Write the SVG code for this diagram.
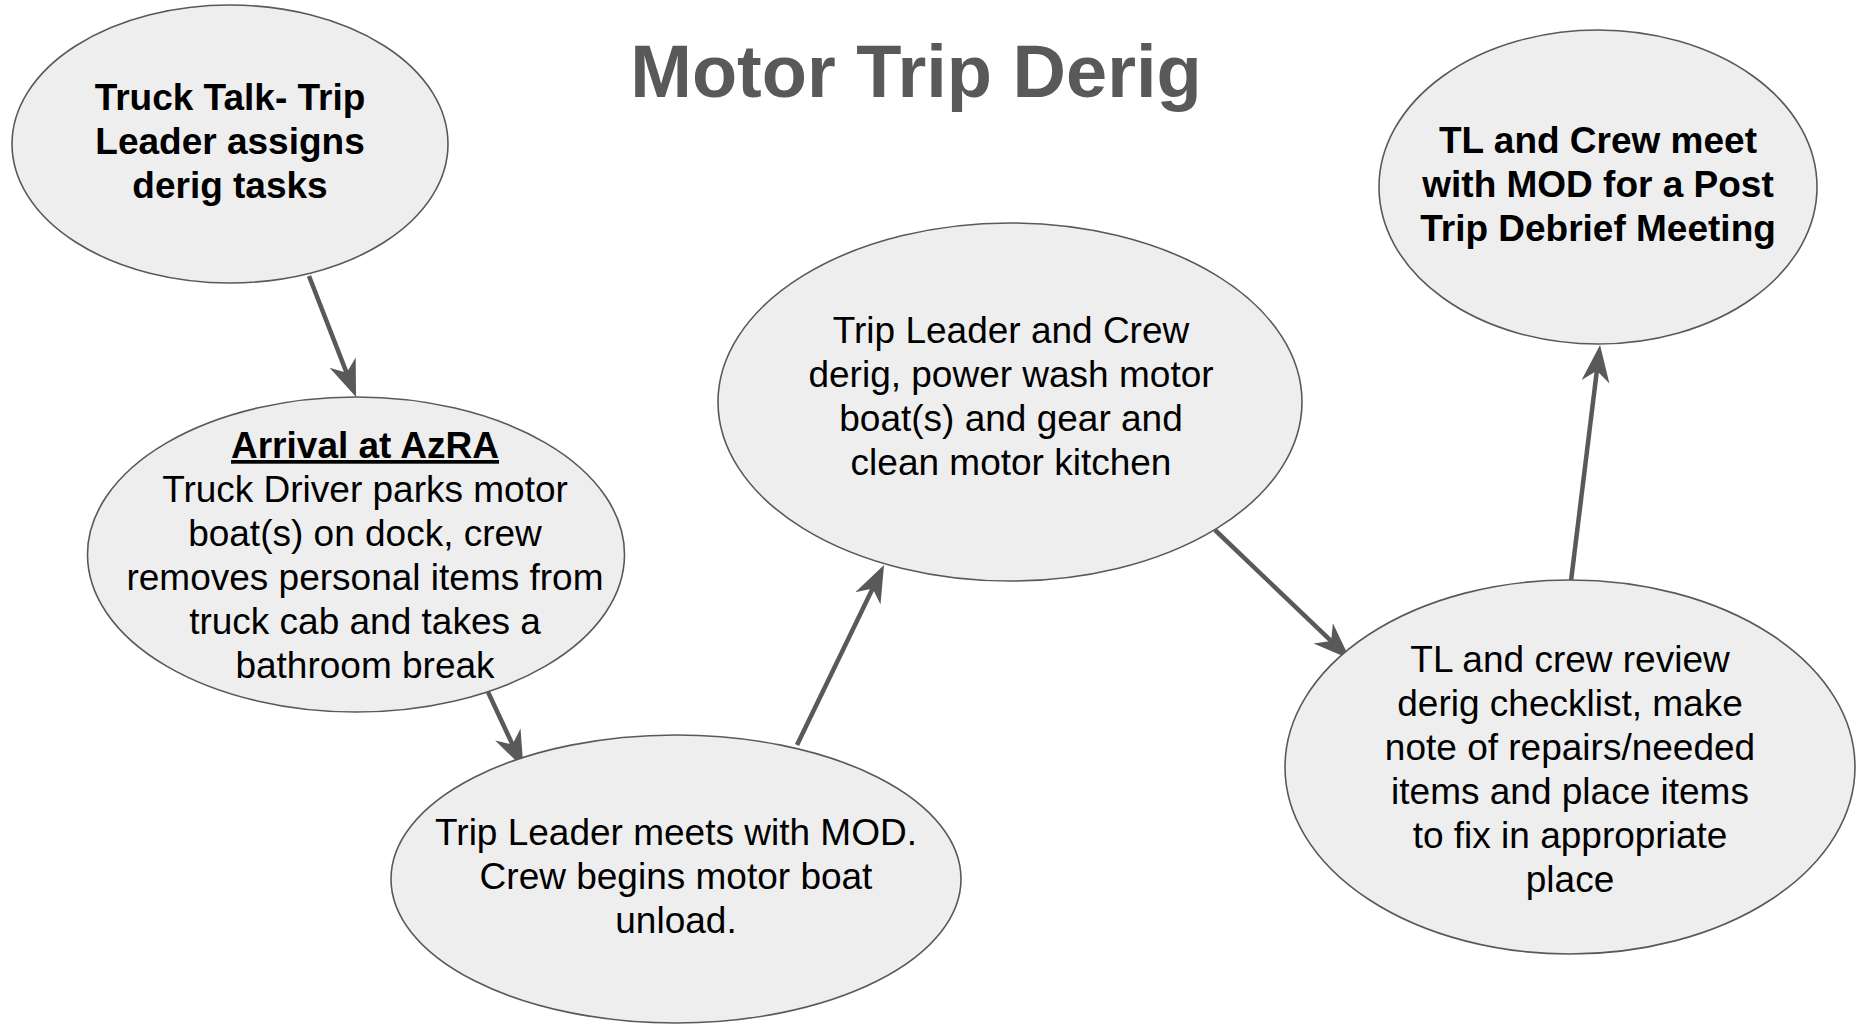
<svg xmlns="http://www.w3.org/2000/svg" width="1856" height="1024" viewBox="0 0 1856 1024">
<style>
.node ellipse{fill:#eeeeee;stroke:#595959;stroke-width:1.6}
.t{font-family:"Liberation Sans",Arial,sans-serif;font-size:37px;fill:#000;text-anchor:middle}
.b{font-weight:bold}
.title{font-family:"Liberation Sans",Arial,sans-serif;font-size:74px;font-weight:bold;fill:#595959;text-anchor:middle}
.conn line{stroke:#595959;stroke-width:4.5;fill:none;marker-end:url(#arr)}
</style>
<defs>
<marker id="arr" markerUnits="userSpaceOnUse" orient="auto" refX="0" refY="0" markerWidth="60" markerHeight="60" overflow="visible">
<path d="M20,0 L-17,-14 L-6,0 L-17,14 Z" fill="#595959"/>
</marker>
</defs>
<rect width="1856" height="1024" fill="#ffffff"/>
<text class="title" x="916" y="97">Motor Trip Derig</text>
<g id="connectors" class="conn">
<line x1="309" y1="276" x2="348.8" y2="378.4"/>
<line x1="488" y1="692" x2="515" y2="749.9"/>
<line x1="797" y1="745" x2="875.3" y2="583"/>
<line x1="1215" y1="530" x2="1335.5" y2="645.2"/>
<line x1="1571" y1="581" x2="1597.6" y2="364.8"/>
</g>
<g id="n1" class="node">
<ellipse cx="230" cy="144" rx="218" ry="139"/>
<text class="t b" x="230" y="110">Truck Talk- Trip</text>
<text class="t b" x="230" y="154">Leader assigns</text>
<text class="t b" x="230" y="198">derig tasks</text>
</g>
<g id="n2" class="node">
<ellipse cx="356" cy="554.5" rx="268.5" ry="157.5"/>
<text class="t b" x="365" y="458" style="text-decoration:underline">Arrival at AzRA</text>
<text class="t" x="365" y="502">Truck Driver parks motor</text>
<text class="t" x="365" y="546">boat(s) on dock, crew</text>
<text class="t" x="365" y="590">removes personal items from</text>
<text class="t" x="365" y="634">truck cab and takes a</text>
<text class="t" x="365" y="678">bathroom break</text>
</g>
<g id="n3" class="node">
<ellipse cx="676" cy="879" rx="285" ry="144"/>
<text class="t" x="676" y="845">Trip Leader meets with MOD.</text>
<text class="t" x="676" y="889">Crew begins motor boat</text>
<text class="t" x="676" y="933">unload.</text>
</g>
<g id="n4" class="node">
<ellipse cx="1010" cy="402" rx="292" ry="179"/>
<text class="t" x="1011" y="343">Trip Leader and Crew</text>
<text class="t" x="1011" y="387">derig, power wash motor</text>
<text class="t" x="1011" y="431">boat(s) and gear and</text>
<text class="t" x="1011" y="475">clean motor kitchen</text>
</g>
<g id="n5" class="node">
<ellipse cx="1570" cy="767" rx="285" ry="187"/>
<text class="t" x="1570" y="672">TL and crew review</text>
<text class="t" x="1570" y="716">derig checklist, make</text>
<text class="t" x="1570" y="760">note of repairs/needed</text>
<text class="t" x="1570" y="804">items and place items</text>
<text class="t" x="1570" y="848">to fix in appropriate</text>
<text class="t" x="1570" y="892">place</text>
</g>
<g id="n6" class="node">
<ellipse cx="1598" cy="187" rx="219" ry="157"/>
<text class="t b" x="1598" y="153">TL and Crew meet</text>
<text class="t b" x="1598" y="197">with MOD for a Post</text>
<text class="t b" x="1598" y="241">Trip Debrief Meeting</text>
</g>
</svg>
